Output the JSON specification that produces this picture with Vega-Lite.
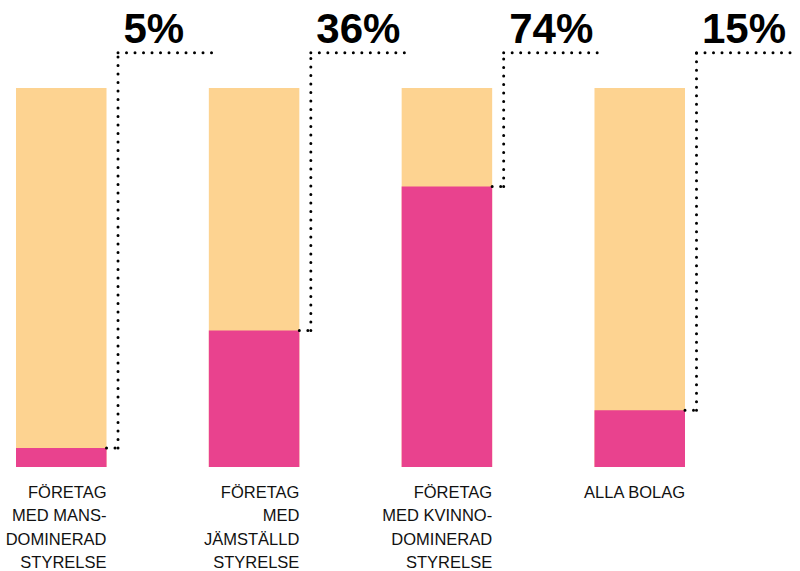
{
  "$schema": "https://vega.github.io/schema/vega-lite/v6.json",
  "width": 669,
  "height": 379,
  "autosize": {"type": "none"},
  "padding": {"left": 16, "top": 88, "right": 115, "bottom": 104},
  "background": "white",
  "config": {"view": {"stroke": null}},
  "data": {
    "values": [
      {"kategori": "Mansdominerad", "andel": 5, "etikett": "FÖRETAG\nMED MANS-\nDOMINERAD\nSTYRELSE"},
      {"kategori": "Jämställd", "andel": 36, "etikett": "FÖRETAG\nMED\nJÄMSTÄLLD\nSTYRELSE"},
      {"kategori": "Kvinnodominerad", "andel": 74, "etikett": "FÖRETAG\nMED KVINNO-\nDOMINERAD\nSTYRELSE"},
      {"kategori": "Alla", "andel": 15, "etikett": "ALLA BOLAG"}
    ]
  },
  "resolve": {"scale": {"x": "shared", "y": "shared"}},
  "layer": [
    {
      "mark": {"type": "bar", "color": "#FDD391"},
      "encoding": {
        "x": {"field": "kategori", "type": "nominal", "sort": null, "axis": null, "scale": {"paddingInner": 0.5306, "paddingOuter": 0}},
        "y": {"datum": 100, "type": "quantitative", "axis": null, "scale": {"domain": [0, 100], "nice": false, "zero": true}}
      }
    },
    {
      "mark": {"type": "bar", "color": "#E9428E"},
      "encoding": {
        "x": {"field": "kategori", "type": "nominal", "sort": null},
        "y": {"field": "andel", "type": "quantitative"}
      }
    },
    {
      "mark": {"type": "rule", "color": "black", "strokeWidth": 3, "strokeCap": "round", "strokeDash": [0, 8.5], "x2Offset": 11.5},
      "encoding": {
        "x": {"field": "kategori", "type": "nominal", "sort": null, "bandPosition": 1},
        "x2": {"field": "kategori", "bandPosition": 1},
        "y": {"field": "andel", "type": "quantitative"}
      }
    },
    {
      "mark": {"type": "rule", "color": "black", "strokeWidth": 3, "strokeCap": "round", "strokeDash": [0, 8.5], "xOffset": 11.5},
      "encoding": {
        "x": {"field": "kategori", "type": "nominal", "sort": null, "bandPosition": 1},
        "y": {"field": "andel", "type": "quantitative"},
        "y2": {"datum": 109.3}
      }
    },
    {
      "mark": {"type": "rule", "color": "black", "strokeWidth": 3, "strokeCap": "round", "strokeDash": [0, 8.5], "xOffset": 11.5, "x2Offset": 106},
      "encoding": {
        "x": {"field": "kategori", "type": "nominal", "sort": null, "bandPosition": 1},
        "x2": {"field": "kategori", "bandPosition": 1},
        "y": {"datum": 109.3, "type": "quantitative"}
      }
    },
    {
      "mark": {"type": "text", "font": "Liberation Sans", "fontWeight": 900, "fontSize": 42, "color": "black", "align": "left", "baseline": "alphabetic", "dx": 17, "dy": -9.5, "text": {"expr": "datum.andel + '%'"}},
      "encoding": {
        "x": {"field": "kategori", "type": "nominal", "sort": null, "bandPosition": 1},
        "y": {"datum": 109.3, "type": "quantitative"}
      }
    },
    {
      "mark": {"type": "text", "font": "Liberation Sans", "fontSize": 16.5, "color": "#111111", "align": "right", "baseline": "alphabetic", "lineBreak": "\n", "lineHeight": 23.3, "dy": 31},
      "encoding": {
        "x": {"field": "kategori", "type": "nominal", "sort": null, "bandPosition": 1},
        "y": {"datum": 0, "type": "quantitative"},
        "text": {"field": "etikett"}
      }
    }
  ]
}
